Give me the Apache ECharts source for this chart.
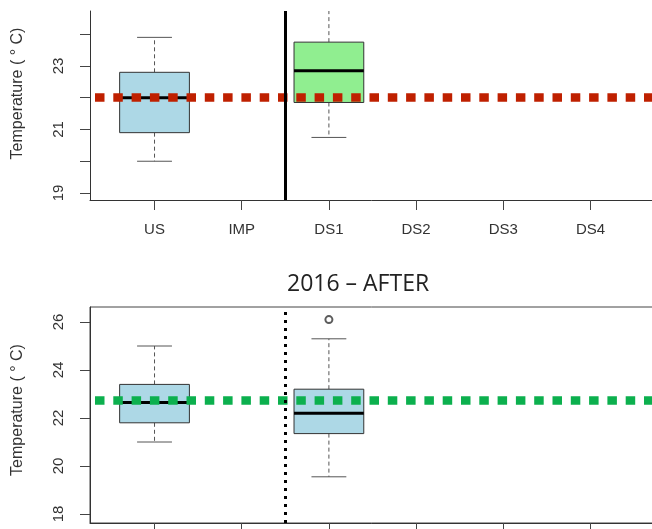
<!DOCTYPE html>
<html>
<head>
<meta charset="utf-8">
<title>Temperature boxplots</title>
<script src="https://cdn.jsdelivr.net/npm/echarts@6/dist/echarts.min.js"></script>
<style>
  html, body { margin: 0; padding: 0; background: #fff; }
  #chart { width: 652px; height: 529px; }
</style>
</head>
<body>
<div id="chart"></div>
<script>
// categories along the x axis (positions 1..6)
const categories = ["US", "IMP", "DS1", "DS2", "DS3", "DS4"];

// box stats: [min, Q1, median, Q3, max]
const usBefore = [20.0, 20.9, 22.0, 22.8, 23.9];
const ds1Before = [20.75, 21.85, 22.85, 23.75, 25.5];
const usAfter = [21.0, 21.8, 22.65, 23.4, 25.0];
const ds1After = [19.55, 21.35, 22.2, 23.2, 25.3];
const ds1AfterOutliers = [26.1];

// horizontal reference levels and the split between IMP and DS1
const beforeRef = 22.0;
const afterRef = 22.75;
const splitPos = 2.5;

// tick labels
const beforeTicks = [19, 20, 21, 22, 23, 24];
const beforeLabels = [19, 21, 23];
const afterTicks = [18, 20, 22, 24, 26];

const pos = name => categories.indexOf(name) + 1;

const chart = echarts.init(document.getElementById("chart"));

function renderBox(params, api) {
  const x = api.value(0);
  const cs = params.coordSys;
  const lo = api.coord([x, api.value(1)]);
  const q1 = api.coord([x, api.value(2)]);
  const med = api.coord([x, api.value(3)]);
  const q3 = api.coord([x, api.value(4)]);
  const hi = api.coord([x, api.value(5)]);
  const w = api.size([1, 0])[0] * 0.8;
  const cx = lo[0];
  const top = Math.max(hi[1], cs.y);
  const bottom = Math.min(lo[1], cs.y + cs.height);
  const whisk = { stroke: "#555", lineWidth: 1, lineDash: [4, 3] };
  const cap = { stroke: "#555", lineWidth: 1 };
  const kids = [
    { type: "line", shape: { x1: cx, y1: q1[1], x2: cx, y2: bottom }, style: whisk },
    { type: "line", shape: { x1: cx, y1: q3[1], x2: cx, y2: top }, style: whisk },
    { type: "rect", shape: { x: cx - w / 2, y: q3[1], width: w, height: q1[1] - q3[1] },
      style: { fill: api.visual("color"), stroke: "#333", lineWidth: 1 } },
    { type: "line", shape: { x1: cx - w / 2, y1: med[1], x2: cx + w / 2, y2: med[1] },
      style: { stroke: "#000", lineWidth: 3 } }
  ];
  if (lo[1] <= cs.y + cs.height) {
    kids.push({ type: "line", shape: { x1: cx - w / 4, y1: lo[1], x2: cx + w / 4, y2: lo[1] }, style: cap });
  }
  if (hi[1] >= cs.y) {
    kids.push({ type: "line", shape: { x1: cx - w / 4, y1: hi[1], x2: cx + w / 4, y2: hi[1] }, style: cap });
  }
  return { type: "group", children: kids };
}

function boxSeries(panel, name, stats, color) {
  return {
    type: "custom",
    xAxisIndex: panel,
    yAxisIndex: panel,
    renderItem: renderBox,
    itemStyle: { color: color },
    encode: { x: 0, y: [1, 2, 3, 4, 5] },
    data: [[pos(name)].concat(stats)],
    silent: true,
    z: 2
  };
}

function guides(panel, level, color, vType) {
  return {
    type: "line",
    xAxisIndex: panel,
    yAxisIndex: panel,
    data: [],
    z: 5,
    markLine: {
      silent: true,
      symbol: "none",
      label: { show: false },
      animation: false,
      data: [
        { yAxis: level, lineStyle: { color: color, width: 8.5, type: [9.5, 8.8], dashOffset: 13.3, cap: "butt" } },
        { xAxis: splitPos, lineStyle: vType }
      ]
    }
  };
}

const xCommon = {
  type: "value",
  min: 0.26,
  max: 6.74,
  splitLine: { show: false },
  axisLine: { show: true, onZero: false, lineStyle: { color: "#333", width: 1 } },
  axisTick: { show: true, customValues: [1, 2, 3, 4, 5, 6], length: 10, lineStyle: { color: "#444" } },
  axisLabel: {
    customValues: [1, 2, 3, 4, 5, 6],
    formatter: v => categories[Math.round(v) - 1],
    margin: 22,
    fontSize: 15,
    color: "#333",
    fontFamily: "Liberation Sans"
  }
};

const yName = "Temperature ( \u00b0 C)";

chart.setOption({
  animation: false,
  title: {
    text: "2016 \u2013 AFTER",
    left: 282,
    top: 268,
    textStyle: { fontSize: 23, fontWeight: "normal", color: "#222", fontFamily: "Open Sans" }
  },
  grid: [
    { left: 90, right: -3, top: 11, bottom: 329, outerBoundsMode: "none" },
    { left: 90, right: -3, top: 307, bottom: 6, outerBoundsMode: "none", show: true, borderColor: "#444", borderWidth: 1 }
  ],
  xAxis: [
    Object.assign({ gridIndex: 0 }, xCommon),
    Object.assign({ gridIndex: 1 }, xCommon)
  ],
  yAxis: [
    {
      gridIndex: 0,
      type: "value",
      min: 18.78,
      max: 24.73,
      splitLine: { show: false },
      axisLine: { show: true, lineStyle: { color: "#333" } },
      axisTick: { show: true, customValues: beforeTicks, length: 10, lineStyle: { color: "#444" } },
      axisLabel: { customValues: beforeLabels, rotate: 90, margin: 24, fontSize: 15, color: "#333", fontFamily: "Liberation Sans" },
      name: yName,
      nameLocation: "middle",
      nameGap: 64,
      nameRotate: 90,
      nameTextStyle: { fontSize: 16, color: "#333", fontFamily: "Liberation Sans", padding: [0, 0, 0, 24] }
    },
    {
      gridIndex: 1,
      type: "value",
      min: 17.625,
      max: 26.625,
      splitLine: { show: false },
      axisLine: { show: true, lineStyle: { color: "#333" } },
      axisTick: { show: true, customValues: afterTicks, length: 10, lineStyle: { color: "#444" } },
      axisLabel: { customValues: afterTicks, rotate: 90, margin: 24, fontSize: 15, color: "#333", fontFamily: "Liberation Sans" },
      name: yName,
      nameLocation: "middle",
      nameGap: 64,
      nameRotate: 90,
      nameTextStyle: { fontSize: 16, color: "#333", fontFamily: "Liberation Sans", padding: [0, 0, 0, 10] }
    }
  ],
  series: [
    boxSeries(0, "US", usBefore, "#ADD8E6"),
    boxSeries(0, "DS1", ds1Before, "#90EE90"),
    boxSeries(1, "US", usAfter, "#ADD8E6"),
    boxSeries(1, "DS1", ds1After, "#ADD8E6"),
    {
      type: "scatter",
      xAxisIndex: 1,
      yAxisIndex: 1,
      symbol: "emptyCircle",
      symbolSize: 7,
      itemStyle: { color: "#333", borderColor: "#333", borderWidth: 1 },
      data: ds1AfterOutliers.map(v => [pos("DS1"), v]),
      silent: true,
      z: 3
    },
    guides(0, beforeRef, "#BF2000", { color: "#000", width: 3, type: "solid" }),
    guides(1, afterRef, "#0CB04E", { color: "#000", width: 3, type: [3, 5] })
  ]
});
</script>
</body>
</html>
